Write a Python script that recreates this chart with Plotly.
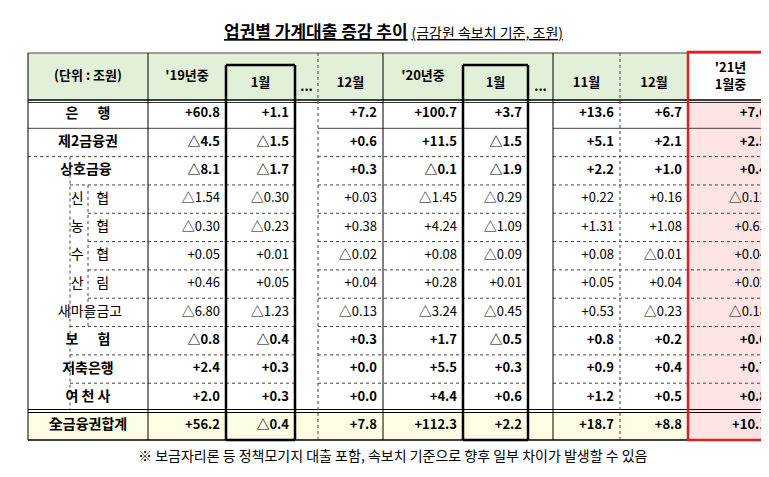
import plotly.graph_objects as go

W, H = 769, 477
labels = ["은      행", "제2금융권", "상호금융", "신    협", "농    협", "수    협", "산    림", "새마을금고",
          "보      험", "저축은행", "여 천 사", "全금융권합계"]
bold_rows = [0, 1, 2, 8, 9, 10, 11]
headers = ["(단위 : 조원)", "'19년중", "1월", "...", "12월", "'20년중", "1월", "...", "11월", "12월", "'21년<br>1월중"]
y19 = ["+60.8", "△4.5", "△8.1", "△1.54", "△0.30", "+0.05", "+0.46", "△6.80", "△0.8", "+2.4", "+2.0", "+56.2"]
jan19 = ["+1.1", "△1.5", "△1.7", "△0.30", "△0.23", "+0.01", "+0.05", "△1.23", "△0.4", "+0.3", "+0.3", "△0.4"]
dec19 = ["+7.2", "+0.6", "+0.3", "+0.03", "+0.38", "△0.02", "+0.04", "△0.13", "+0.3", "+0.0", "+0.0", "+7.8"]
y20 = ["+100.7", "+11.5", "△0.1", "△1.45", "+4.24", "+0.08", "+0.28", "△3.24", "+1.7", "+5.5", "+4.4", "+112.3"]
jan20 = ["+3.7", "△1.5", "△1.9", "△0.29", "△1.09", "△0.09", "+0.01", "△0.45", "△0.5", "+0.3", "+0.6", "+2.2"]
nov20 = ["+13.6", "+5.1", "+2.2", "+0.22", "+1.31", "+0.08", "+0.05", "+0.53", "+0.8", "+0.9", "+1.2", "+18.7"]
dec20 = ["+6.7", "+2.1", "+1.0", "+0.16", "+1.08", "△0.01", "+0.04", "△0.23", "+0.2", "+0.4", "+0.5", "+8.8"]
jan21 = ["+7.6", "+2.5", "+0.4", "△0.12", "+0.63", "+0.04", "+0.02", "△0.18", "+0.6", "+0.7", "+0.8", "+10.1"]

FONT = "Noto Sans CJK KR"
n = len(labels)
edges = [20, 140, 218, 287, 310, 375, 455, 520, 545, 612, 680, 765]
data_cols = {1: y19, 2: jan19, 4: dec19, 5: y20, 6: jan20, 8: nov20, 9: dec20, 10: jan21}
top, hb = 45, 92
rh = (403.5 - hb) / (n - 1)
row_top = [hb + rh * i for i in range(n)]
bottom = 432
row_bot = row_top[1:] + [bottom]
centers = [(a + c) / 2 for a, c in zip(row_top, row_bot)]
label_x = [80, 80, 78, 82, 82, 82, 82, 82, 80, 80, 80, 80]

def b(col):
    return [f"<b>{v}</b>" if i in bold_rows else v for i, v in enumerate(col)]

fig = go.Figure()
shapes = []
def rect(x0, x1, y0, y1, fill, line=None):
    shapes.append(dict(type="rect", xref="x", yref="y", x0=x0, x1=x1, y0=y0, y1=y1, fillcolor=fill,
                       line=line or dict(width=0), layer="below"))
def line(x0, x1, y0, y1, color="black", width=1, dash="solid"):
    shapes.append(dict(type="line", xref="x", yref="y", x0=x0, x1=x1, y0=y0, y1=y1,
                       line=dict(color=color, width=width, dash=dash)))

# fills
rect(20, 680, top, hb, "#e2efd9")
rect(680, 765, hb, bottom, "#fde3e3")
rect(20, 680, row_top[-1], bottom, "#fdfde3")

# horizontal lines
for i in range(1, n - 1):
    y = row_top[i]
    xs = 20 if i in (1, 2) else (62 if i in (3, 8, 9, 10) else 80)
    if i == 8:
        xs = 62
    segs = [(xs, 287), (310, 520), (545, 765)]
    for a, c in segs:
        line(a, c, y, y, "#444", 1, "dot" if i > 1 else "solid")
line(20, 765, top, top, "#444", 1)
line(20, 765, hb, hb, "black", 1.5)
line(20, 765, hb + 2.5, hb + 2.5, "black", 0.8)
line(20, 765, row_top[-1] - 2, row_top[-1] - 2, "black", 1.2)
line(20, 765, row_top[-1] + 1, row_top[-1] + 1, "black", 1.2)
line(20, 765, bottom, bottom, "black", 1.5)
# vertical lines
for x in (20, 140, 375, 545):
    line(x, x, top, bottom, "black", 1)
for x in (310, 612):
    line(x, x, top, bottom, "#444", 1, "dot")
line(62, 62, row_top[2], row_top[-1] - 2, "#444", 1, "dot")
line(80, 80, row_top[3], row_top[8], "#444", 1, "dot")
# boxes
for x0, x1 in [(218, 287), (455, 520)]:
    line(x0, x1, 57, 57, "black", 2.5)
    line(x0, x0, 57, bottom, "black", 2.5)
    line(x1, x1, 57, bottom, "black", 2.5)
    line(x0, x1, bottom, bottom, "black", 2.5)
shapes.append(dict(type="rect", xref="x", yref="y", x0=680, x1=765, y0=top - 1, y1=bottom,
                   line=dict(color="#e02020", width=2.5)))

# header text
hx = [(edges[i] + edges[i + 1]) / 2 for i in range(len(headers))]
hy = [69, 69, 76, 80, 76, 69, 76, 80, 76, 76, 69]
fig.add_trace(go.Scatter(x=hx, y=hy, mode="text", text=[f"<b>{h}</b>" for h in headers],
                         textfont=dict(family=FONT, size=13, color="black"), hoverinfo="skip"))
# labels
fig.add_trace(go.Scatter(x=label_x, y=centers, mode="text", text=b(labels),
                         textfont=dict(family=FONT, size=14, color="black"), hoverinfo="skip"))
# values
for ci, vals in data_cols.items():
    fig.add_trace(go.Scatter(x=[edges[ci + 1] - 6] * n, y=centers, mode="text", text=b(vals),
                             textposition="middle left",
                             textfont=dict(family=FONT, size=13, color="black"), hoverinfo="skip"))

fig.update_layout(
    width=W, height=H, margin=dict(l=0, r=0, t=0, b=0), paper_bgcolor="white", plot_bgcolor="white",
    showlegend=False, shapes=shapes,
    xaxis=dict(range=[0, W], visible=False, fixedrange=True),
    yaxis=dict(range=[H, 0], visible=False, fixedrange=True),
    annotations=[
        dict(x=385, y=22, xref="x", yref="y", showarrow=False,
             text="<b><u>업권별 가계대출 증감 추이</u></b> <span style='font-size:14px'><u>(금감원 속보치 기준, 조원)</u></span>",
             font=dict(family=FONT, size=17, color="black")),
        dict(x=385, y=447, xref="x", yref="y", showarrow=False,
             text="※ 보금자리론 등 정책모기지 대출 포함, 속보치 기준으로 향후 일부 차이가 발생할 수 있음",
             font=dict(family=FONT, size=14, color="black")),
    ],
)
fig.write_html("out.html")
